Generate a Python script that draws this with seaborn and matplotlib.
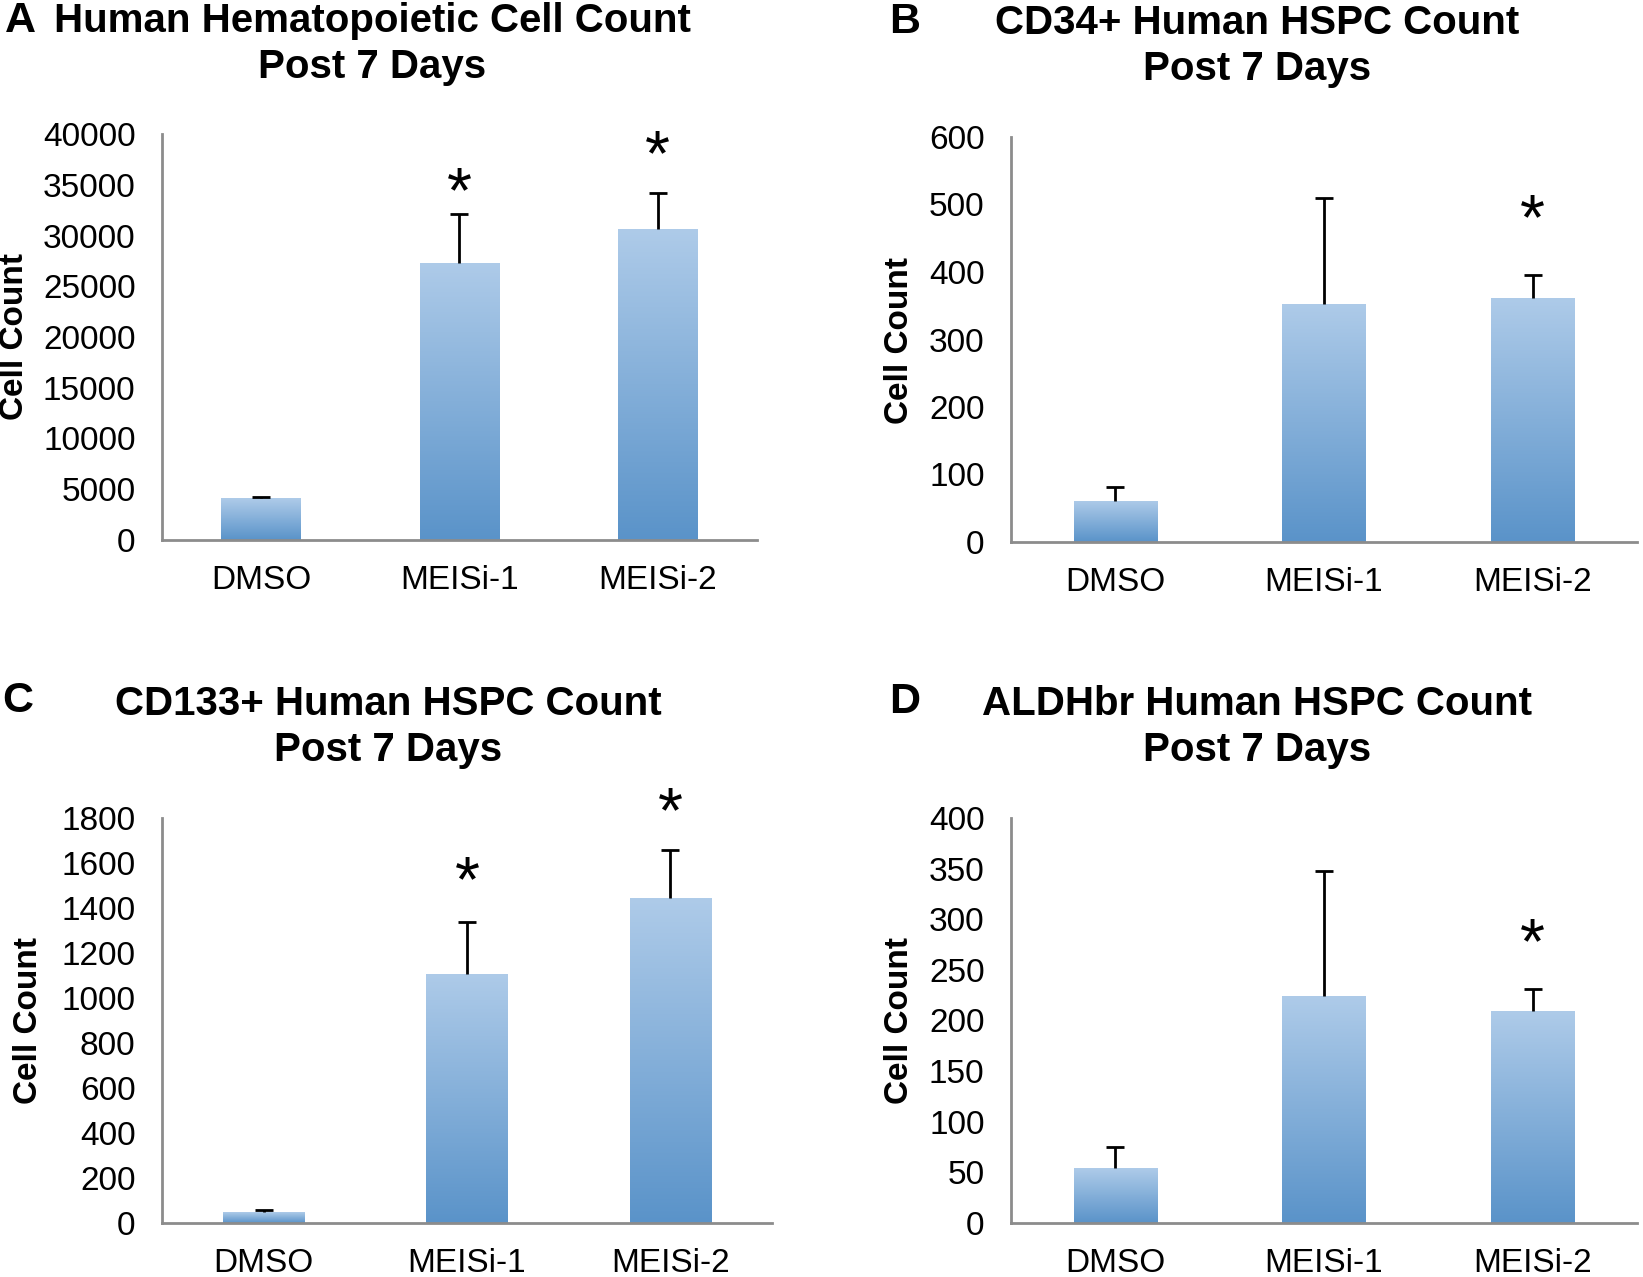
import numpy as np
import pandas as pd
import matplotlib
matplotlib.use("Agg")
import matplotlib.pyplot as plt
import seaborn as sns
from matplotlib.colors import LinearSegmentedColormap
from matplotlib.ticker import FixedLocator
from matplotlib.transforms import offset_copy

categories = ["DMSO", "MEISi-1", "MEISi-2"]

a_vals = [4100, 27300, 30600]
a_err = [150, 4800, 3600]
a_stars = [None, 35200, 38800]
a_ticks = [0, 5000, 10000, 15000, 20000, 25000, 30000, 35000, 40000]

b_vals = [61, 353, 362]
b_err = [20, 157, 34]
b_stars = [None, None, 492]
b_ticks = [0, 100, 200, 300, 400, 500, 600]

c_vals = [47, 1107, 1443]
c_err = [11, 231, 217]
c_stars = [None, 1560, 1866]
c_ticks = [0, 200, 400, 600, 800, 1000, 1200, 1400, 1600, 1800]

d_vals = [54, 224, 209]
d_err = [21, 124, 22]
d_stars = [None, None, 285]
d_ticks = [0, 50, 100, 150, 200, 250, 300, 350, 400]

titles = [
    ("A", "Human Hematopoietic Cell Count", "Post 7 Days"),
    ("B", "CD34+ Human HSPC Count", "Post 7 Days"),
    ("C", "CD133+ Human HSPC Count", "Post 7 Days"),
    ("D", "ALDHbr Human HSPC Count", "Post 7 Days"),
]

sns.set_style("white")
plt.rcParams["font.family"] = ["Liberation Sans", "DejaVu Sans"]
plt.rcParams["text.color"] = "black"

W, H = 1643, 1277
fig = plt.figure(figsize=(W / 100, H / 100), dpi=100)

grad = LinearSegmentedColormap.from_list("bar", ["#aecbe9", "#5a93c9"])
gray = "#8c8c8c"


def px_axes(left, top, right, bottom):
    return fig.add_axes([left / W, 1 - bottom / H, (right - left) / W, (bottom - top) / H])


def draw_panel(ax, vals, errs, stars, ticks):
    df = pd.DataFrame({"group": categories, "count": vals})
    sns.barplot(data=df, x="group", y="count", color="#7fa9d6", width=0.4, ax=ax, errorbar=None)
    top = ticks[-1]
    gvals = np.linspace(0, 1, 256).reshape(-1, 1)
    for p in ax.patches:
        x0 = p.get_x()
        w = p.get_width()
        h = p.get_height()
        im = ax.imshow(gvals, cmap=grad, aspect="auto", extent=[x0, x0 + w, 0, h],
                       origin="upper", zorder=2)
        im.set_clip_path(p)
        p.set_facecolor("none")
        p.set_edgecolor("none")
    eb = ax.errorbar(range(len(vals)), vals, yerr=[np.zeros(len(errs)), errs], fmt="none",
                     ecolor="black", elinewidth=2, capsize=6.5, capthick=2, zorder=3)
    # one-sided bars: hide the cap sitting on the bar top
    for cap in eb[1]:
        if np.allclose(cap.get_ydata(), vals):
            cap.set_visible(False)
    # star ink centre sits ~29 px above the baseline
    star_tr = offset_copy(ax.transData, fig=fig, y=-29, units="dots")
    for i, s in enumerate(stars):
        if s is not None:
            ax.text(i, s, "*", ha="center", va="baseline", fontsize=46,
                    transform=star_tr, clip_on=False)
    ax.set_xlim(-0.5, 2.5)
    ax.set_ylim(0, top)
    ax.set_yticks(ticks)
    ax.set_yticklabels([str(t) for t in ticks])
    ax.xaxis.set_minor_locator(FixedLocator([-0.5, 0.5, 1.5, 2.5]))
    ax.tick_params(axis="x", which="major", length=0, pad=18, labelsize=24, labelcolor="black")
    ax.tick_params(axis="x", which="minor", length=9, width=2, color=gray, direction="out")
    ax.tick_params(axis="y", length=9, width=2, color=gray, direction="out", pad=10,
                   labelsize=24, labelcolor="black")
    ax.set_xlabel("")
    ax.set_ylabel("")
    sns.despine(ax=ax)
    for side in ["left", "bottom"]:
        ax.spines[side].set_color(gray)
        ax.spines[side].set_linewidth(2)


ax_a = px_axes(162, 134, 757, 540)
ax_b = px_axes(1011, 137, 1637, 542)
ax_c = px_axes(162, 818, 772, 1223)
ax_d = px_axes(1011, 818, 1637, 1223)

draw_panel(ax_a, a_vals, a_err, a_stars, a_ticks)
draw_panel(ax_b, b_vals, b_err, b_stars, b_ticks)
draw_panel(ax_c, c_vals, c_err, c_stars, c_ticks)
draw_panel(ax_d, d_vals, d_err, d_stars, d_ticks)

# panel letters, titles, y labels (pixel positions)
letter_pos = [(20, 21), (905, 22), (18, 701), (905, 702)]
title_pos = [(372, 21, 67), (1257, 23, 69), (388, 704, 750), (1257, 704, 750)]
ylabel_pos = [(15, 336), (899, 340), (29, 1020), (899, 1020)]

for (letter, line1, line2), (lx, ly), (tx, ty1, ty2), (yx, yy) in zip(titles, letter_pos, title_pos, ylabel_pos):
    fig.text(lx / W, 1 - ly / H, letter, fontsize=31, fontweight="bold", ha="center", va="center")
    fig.text(tx / W, 1 - ty1 / H, line1, fontsize=29, fontweight="bold", ha="center", va="center")
    fig.text(tx / W, 1 - ty2 / H, line2, fontsize=29, fontweight="bold", ha="center", va="center")
    fig.text(yx / W, 1 - yy / H, "Cell Count", fontsize=24, fontweight="bold", rotation=90,
             ha="center", va="center")

fig.savefig("out.png", dpi=100, facecolor="white")
